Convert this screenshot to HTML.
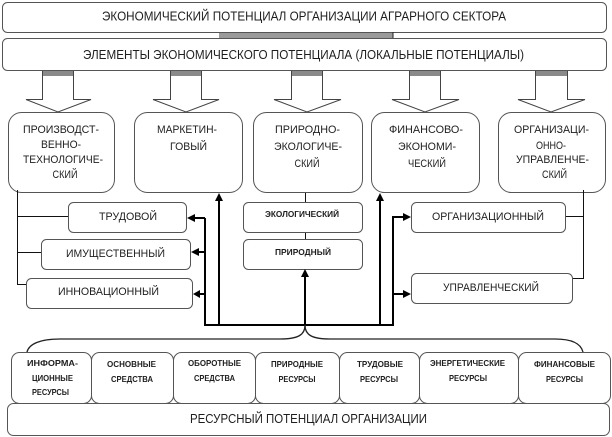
<!DOCTYPE html>
<html><head><meta charset="utf-8"><style>
html,body{margin:0;padding:0;background:#fff;}
svg{display:block;}
text{font-family:"Liberation Sans","DejaVu Sans",sans-serif;fill:#1e1e1e;}
.t13{font-size:13px;}
.t11{font-size:11px;}
.tb{font-size:8.5px;font-weight:bold;}
.box{fill:#fff;stroke:#555;stroke-width:1;}
.thin{fill:none;stroke:#111;stroke-width:1;}
.thick{fill:none;stroke:#000;stroke-width:2;}
.arr{fill:none;stroke:#444;stroke-width:1;}
</style></head><body>
<svg width="612" height="437" viewBox="0 0 612 437" xmlns="http://www.w3.org/2000/svg">
<!-- top boxes -->
<rect class="box" x="2.5" y="2.5" width="604" height="30" rx="5"/>
<text class="t13" x="304" y="20.5" text-anchor="middle" textLength="404" lengthAdjust="spacingAndGlyphs">ЭКОНОМИЧЕСКИЙ ПОТЕНЦИАЛ ОРГАНИЗАЦИИ АГРАРНОГО СЕКТОРА</text>
<rect x="219" y="33" width="174" height="5" fill="#9a9a9a"/>
<line x1="393" y1="32" x2="393" y2="38" stroke="#222" stroke-width="1"/>
<rect class="box" x="2.5" y="38.5" width="604" height="32" rx="5"/>
<text class="t13" x="303.5" y="59" text-anchor="middle" textLength="441" lengthAdjust="spacingAndGlyphs">ЭЛЕМЕНТЫ ЭКОНОМИЧЕСКОГО ПОТЕНЦИАЛА (ЛОКАЛЬНЫЕ ПОТЕНЦИАЛЫ)</text>

<!-- block arrows -->
<g>
<rect x="42" y="71" width="32" height="5" fill="#8a8a8a"/>
<path class="arr" d="M42.5,71 V99.5 H26 L58,112 L91,99.5 H73.5 V71"/>
<rect x="170" y="71" width="32" height="5" fill="#8a8a8a"/>
<path class="arr" d="M170.5,71 V99.5 H153 L186,112 L219,99.5 H201.5 V71"/>
<rect x="291" y="71" width="32" height="5" fill="#8a8a8a"/>
<path class="arr" d="M291.5,71 V99.5 H274 L307,112 L341,99.5 H322.5 V71"/>
<rect x="409" y="71" width="32" height="5" fill="#8a8a8a"/>
<path class="arr" d="M409.5,71 V99.5 H392 L425,112 L459,99.5 H440.5 V71"/>
<rect x="535" y="71" width="33" height="5" fill="#8a8a8a"/>
<path class="arr" d="M535.5,71 V99.5 H518 L551,112 L585,99.5 H567.5 V71"/>
</g>

<!-- category boxes -->
<rect class="box" x="8.5" y="112.5" width="106" height="80" rx="13"/>
<rect class="box" x="134.5" y="112.5" width="108" height="80" rx="13"/>
<rect class="box" x="253.5" y="112.5" width="109" height="80" rx="13"/>
<rect class="box" x="371.5" y="112.5" width="108" height="80" rx="13"/>
<rect class="box" x="498.5" y="112.5" width="107" height="80" rx="13"/>

<text class="t11" x="61" y="133" text-anchor="middle" textLength="76" lengthAdjust="spacingAndGlyphs">ПРОИЗВОДСТ-</text>
<text class="t11" x="61" y="148" text-anchor="middle" textLength="40" lengthAdjust="spacingAndGlyphs">ВЕННО-</text>
<text class="t11" x="63" y="163" text-anchor="middle" textLength="80" lengthAdjust="spacingAndGlyphs">ТЕХНОЛОГИЧЕ-</text>
<text class="t11" x="65" y="178" text-anchor="middle" textLength="25" lengthAdjust="spacingAndGlyphs">СКИЙ</text>

<text class="t11" x="187" y="133" text-anchor="middle" textLength="60" lengthAdjust="spacingAndGlyphs">МАРКЕТИН-</text>
<text class="t11" x="188.5" y="150" text-anchor="middle" textLength="37" lengthAdjust="spacingAndGlyphs">ГОВЫЙ</text>

<text class="t11" x="307.5" y="133" text-anchor="middle" textLength="65" lengthAdjust="spacingAndGlyphs">ПРИРОДНО-</text>
<text class="t11" x="308" y="150" text-anchor="middle" textLength="68" lengthAdjust="spacingAndGlyphs">ЭКОЛОГИЧЕ-</text>
<text class="t11" x="307" y="167" text-anchor="middle" textLength="25" lengthAdjust="spacingAndGlyphs">СКИЙ</text>

<text class="t11" x="426" y="133" text-anchor="middle" textLength="74" lengthAdjust="spacingAndGlyphs">ФИНАНСОВО-</text>
<text class="t11" x="427" y="150" text-anchor="middle" textLength="58" lengthAdjust="spacingAndGlyphs">ЭКОНОМИ-</text>
<text class="t11" x="427" y="167" text-anchor="middle" textLength="38" lengthAdjust="spacingAndGlyphs">ЧЕСКИЙ</text>

<text class="t11" x="551.5" y="133" text-anchor="middle" textLength="75" lengthAdjust="spacingAndGlyphs">ОРГАНИЗАЦИ-</text>
<text class="t11" x="551" y="149" text-anchor="middle" textLength="30" lengthAdjust="spacingAndGlyphs">ОННО-</text>
<text class="t11" x="552.5" y="163" text-anchor="middle" textLength="73" lengthAdjust="spacingAndGlyphs">УПРАВЛЕНЧЕ-</text>
<text class="t11" x="554.5" y="178" text-anchor="middle" textLength="25" lengthAdjust="spacingAndGlyphs">СКИЙ</text>

<!-- thin connectors -->
<path class="thin" d="M17.5,190 V284.5 H26 M17.5,216.5 H68 M17.5,252.5 H41"/>
<path class="thin" d="M583.5,190 V278.5 H573 M566,216.5 H583.5"/>
<path class="thin" d="M305.5,193 V202 M305.5,232 V239"/>

<!-- left small boxes -->
<rect class="box" x="68.5" y="202.5" width="118" height="30" rx="5"/>
<text class="t11" x="128" y="220" text-anchor="middle" textLength="58" lengthAdjust="spacingAndGlyphs">ТРУДОВОЙ</text>
<rect class="box" x="41.5" y="239.5" width="149" height="30" rx="5"/>
<text class="t11" x="115.5" y="257" text-anchor="middle" textLength="99" lengthAdjust="spacingAndGlyphs">ИМУЩЕСТВЕННЫЙ</text>
<rect class="box" x="26.5" y="278.5" width="166" height="30" rx="5"/>
<text class="t11" x="108.5" y="295" text-anchor="middle" textLength="101" lengthAdjust="spacingAndGlyphs">ИННОВАЦИОННЫЙ</text>

<!-- center small boxes -->
<rect class="box" x="243.5" y="202.5" width="119" height="30" rx="5"/>
<text class="tb" x="302" y="217" text-anchor="middle" textLength="74" lengthAdjust="spacingAndGlyphs">ЭКОЛОГИЧЕСКИЙ</text>
<rect class="box" x="243.5" y="239.5" width="119" height="30" rx="5"/>
<text class="tb" x="303" y="255" text-anchor="middle" textLength="56" lengthAdjust="spacingAndGlyphs">ПРИРОДНЫЙ</text>

<!-- right small boxes -->
<rect class="box" x="411.5" y="202.5" width="154" height="30" rx="5"/>
<text class="t11" x="488" y="220" text-anchor="middle" textLength="112" lengthAdjust="spacingAndGlyphs">ОРГАНИЗАЦИОННЫЙ</text>
<rect class="box" x="411.5" y="273.5" width="161" height="30" rx="5"/>
<text class="t11" x="491" y="291" text-anchor="middle" textLength="96" lengthAdjust="spacingAndGlyphs">УПРАВЛЕНЧЕСКИЙ</text>

<!-- thick trunk lines -->
<path class="thick" d="M205,218 V325 H393 V217"/>
<path class="thick" d="M219,325 V199"/>
<path class="thick" d="M380,325 V199"/>
<path class="thick" d="M305,325 V275"/>
<path class="thick" d="M205,218 H193 M205,252 H197 M205,294 H199"/>
<path class="thick" d="M392,217 H405 M392,294 H405"/>
<!-- arrowheads -->
<polygon points="219,193 215,201 223,201" fill="#000"/>
<polygon points="380,193 376,201 384,201" fill="#000"/>
<polygon points="305,269 301,277 309,277" fill="#000"/>
<polygon points="187,218 195,214 195,222" fill="#000"/>
<polygon points="191,252 199,248 199,256" fill="#000"/>
<polygon points="193,294 200,290 200,298" fill="#000"/>
<polygon points="411,217 403,213 403,221" fill="#000"/>
<polygon points="411,294 403,290 403,298" fill="#000"/>

<!-- brace -->
<path d="M305,325 C305,335 298,339 280,339 L60,339 C40,339 29,344 27,352" fill="none" stroke="#222" stroke-width="1.3"/>
<path d="M305,325 C305,335 312,339 330,339 L555,339 C572,339 581,344 583,352" fill="none" stroke="#222" stroke-width="1.3"/>

<!-- resource boxes -->
<rect class="box" x="7.5" y="403.5" width="602" height="32" rx="6"/>
<rect class="box" x="11.5" y="352.5" width="80" height="51" rx="8"/>
<rect class="box" x="91.5" y="352.5" width="82" height="51" rx="8"/>
<rect class="box" x="173.5" y="352.5" width="82" height="51" rx="8"/>
<rect class="box" x="255.5" y="352.5" width="84" height="51" rx="8"/>
<rect class="box" x="339.5" y="352.5" width="80" height="51" rx="8"/>
<rect class="box" x="419.5" y="352.5" width="99" height="51" rx="8"/>
<rect class="box" x="518.5" y="352.5" width="92" height="51" rx="8"/>

<text class="tb" x="52.5" y="366" text-anchor="middle" textLength="51" lengthAdjust="spacingAndGlyphs">ИНФОРМА-</text>
<text class="tb" x="52.5" y="381" text-anchor="middle" textLength="41" lengthAdjust="spacingAndGlyphs">ЦИОННЫЕ</text>
<text class="tb" x="50.5" y="395" text-anchor="middle" textLength="37" lengthAdjust="spacingAndGlyphs">РЕСУРСЫ</text>

<text class="tb" x="131.5" y="367" text-anchor="middle" textLength="49" lengthAdjust="spacingAndGlyphs">ОСНОВНЫЕ</text>
<text class="tb" x="132" y="382" text-anchor="middle" textLength="42" lengthAdjust="spacingAndGlyphs">СРЕДСТВА</text>

<text class="tb" x="214.5" y="366" text-anchor="middle" textLength="53" lengthAdjust="spacingAndGlyphs">ОБОРОТНЫЕ</text>
<text class="tb" x="214.5" y="381" text-anchor="middle" textLength="41" lengthAdjust="spacingAndGlyphs">СРЕДСТВА</text>

<text class="tb" x="297" y="367" text-anchor="middle" textLength="52" lengthAdjust="spacingAndGlyphs">ПРИРОДНЫЕ</text>
<text class="tb" x="297" y="382" text-anchor="middle" textLength="37" lengthAdjust="spacingAndGlyphs">РЕСУРСЫ</text>

<text class="tb" x="380" y="367" text-anchor="middle" textLength="46" lengthAdjust="spacingAndGlyphs">ТРУДОВЫЕ</text>
<text class="tb" x="379" y="382" text-anchor="middle" textLength="38" lengthAdjust="spacingAndGlyphs">РЕСУРСЫ</text>

<text class="tb" x="467.5" y="366" text-anchor="middle" textLength="75" lengthAdjust="spacingAndGlyphs">ЭНЕРГЕТИЧЕСКИЕ</text>
<text class="tb" x="468" y="381" text-anchor="middle" textLength="38" lengthAdjust="spacingAndGlyphs">РЕСУРСЫ</text>

<text class="tb" x="564.5" y="367" text-anchor="middle" textLength="61" lengthAdjust="spacingAndGlyphs">ФИНАНСОВЫЕ</text>
<text class="tb" x="564.5" y="382" text-anchor="middle" textLength="37" lengthAdjust="spacingAndGlyphs">РЕСУРСЫ</text>

<text class="t13" x="308.5" y="423" text-anchor="middle" textLength="237" lengthAdjust="spacingAndGlyphs">РЕСУРСНЫЙ ПОТЕНЦИАЛ ОРГАНИЗАЦИИ</text>
</svg>
</body></html>
